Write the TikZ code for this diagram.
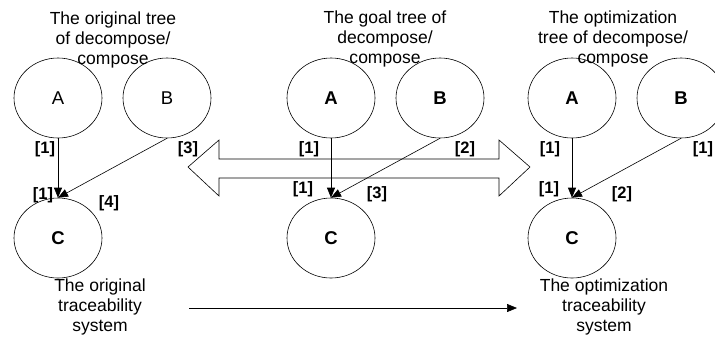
\documentclass[tikz,border=0pt]{standalone}
\usepackage{fontspec}
\setmainfont{Liberation Sans}
\usetikzlibrary{shapes.geometric,arrows.meta}
\begin{document}
\begin{tikzpicture}[x=1bp,y=-1bp,
  circ/.style={draw,ellipse,minimum width=88bp,minimum height=80bp,inner sep=0pt,line width=0.6bp,font=\fontsize{18.5bp}{20bp}\selectfont},
  bcirc/.style={circ,font=\fontsize{18.5bp}{20bp}\selectfont\bfseries},
  lbl/.style={inner sep=0pt,font=\fontsize{16.5bp}{18bp}\selectfont\bfseries},
  captext/.style={inner sep=0pt,align=center,font=\fontsize{17.5bp}{20bp}\selectfont},
  conn/.style={line width=0.6bp,-{Triangle[length=10bp,width=8bp]}}
]
\useasboundingbox (0,0) rectangle (715,338);
% double arrow
\draw[line width=0.6bp,fill=white] (188,167) -- (219,140) -- (219,159) -- (499,159) -- (499,140) -- (530,167) -- (499,196) -- (499,178) -- (219,178) -- (219,196) -- cycle;
% bottom arrow
\coordinate (bs) at (189,308);
\coordinate (be) at (517,308);
\draw[conn] (bs) -- (be);

% left group
\node[circ] (A1) at (58,98) {A};
\node[circ] (B1) at (167,98) {B};
\node[bcirc] (C1) at (58,238) {C};
\draw[conn] (A1.south) -- (C1.north);
\draw[conn] (B1.south) -- (C1.north);
\node[lbl] (l1a) at (45,149) {[1]};
\node[lbl] (l1b) at (43,195) {[1]};
\node[lbl] (l1c) at (109,203) {[4]};
\node[lbl] (l1d) at (188,149) {[3]};
\node[captext] (t1) at (113,40) {The original tree\\of decompose/\\compose};
\node[captext] (s1) at (100,307) {The original\\traceability\\system};

% middle group
\node[bcirc] (A2) at (331,98) {A};
\node[bcirc] (B2) at (440,98) {B};
\node[bcirc] (C2) at (331,238) {C};
\draw[conn] (A2.south) -- (C2.north);
\draw[conn] (B2.south) -- (C2.north);
\node[lbl] (l2a) at (309,149) {[1]};
\node[lbl] (l2b) at (465,149) {[2]};
\node[lbl] (l2c) at (303,189) {[1]};
\node[lbl] (l2d) at (377,194) {[3]};
\node[captext] (t2) at (385,39) {The goal tree of\\decompose/\\compose};

% right group
\node[bcirc] (A3) at (572,98) {A};
\node[bcirc] (B3) at (681,98) {B};
\node[bcirc] (C3) at (572,238) {C};
\draw[conn] (A3.south) -- (C3.north);
\draw[conn] (B3.south) -- (C3.north);
\node[lbl] (l3a) at (550,149) {[1]};
\node[lbl] (l3b) at (703,149) {[1]};
\node[lbl] (l3c) at (549,189) {[1]};
\node[lbl] (l3d) at (622,194) {[2]};
\node[captext] (t3) at (613,39) {The optimization\\tree of decompose/\\compose};
\node[captext] (s3) at (604,307) {The optimization\\traceability\\system};
\end{tikzpicture}
\end{document}
